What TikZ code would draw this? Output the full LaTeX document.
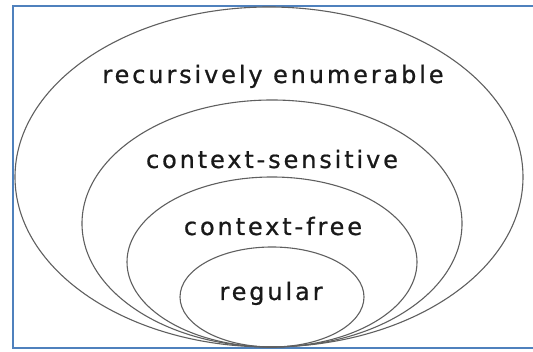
\documentclass[tikz,border=0pt]{standalone}
\usepackage{fontspec}
\setmainfont{DejaVu Sans}
\newfontfamily\lblfont[LetterSpace=12,FakeBold=0.8]{DejaVu Sans}
\definecolor{framblue}{RGB}{79,129,189}
\definecolor{linegray}{RGB}{95,95,95}
\definecolor{txtgray}{RGB}{25,25,25}
\begin{document}
\begin{tikzpicture}[x=1pt,y=1pt,
  setline/.style={draw=linegray,line width=1.1pt},
  setlabel/.style={anchor=base,inner sep=0pt,text=txtgray,font=\lblfont\fontsize{24}{24}\selectfont}]
\useasboundingbox (0,0) rectangle (533,352);
\draw[framblue,line width=2pt] (13,4) rectangle (545,346);
\draw[setline] (269,175) ellipse [x radius=254,y radius=170];
\draw[setline] (272,128.5) ellipse [x radius=190,y radius=123.5];
\draw[setline] (272,90) ellipse [x radius=145,y radius=85];
\draw[setline] (272,55) ellipse [x radius=92,y radius=50];
\node[setlabel] (re) at (273,269) {recursively enumerable};
\node[setlabel] (cs) at (272,184) {context-sensitive};
\node[setlabel] (cf) at (273,117) {context-free};
\node[setlabel] (rg) at (271,52) {regular};
\end{tikzpicture}
\end{document}
